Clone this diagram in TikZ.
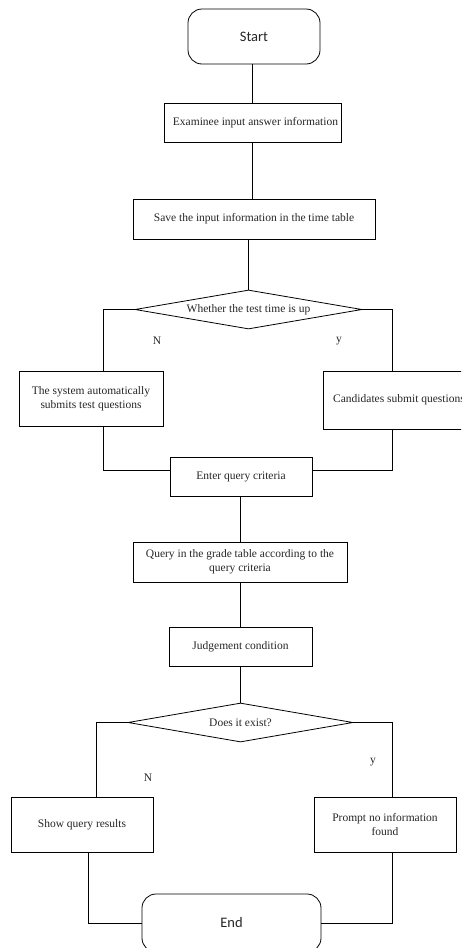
\documentclass[tikz,border=0pt]{standalone}
\usepackage{fontspec}
\setmainfont{Liberation Serif}
\newfontfamily\calib{Carlito}
\usetikzlibrary{shapes.geometric}
\begin{document}
\begin{tikzpicture}[x=1pt,y=-1pt,
  box/.style={draw, line width=0.8pt, font=\fontsize{11.5}{14}\selectfont, align=center, inner sep=0pt, text=black!85},
  term/.style={draw, line width=0.8pt, rounded corners=14pt, font=\calib\fontsize{14.5}{17}\selectfont, inner sep=0pt, text=black!85},
  dec/.style={draw, diamond, aspect=5.8, line width=0.8pt, font=\fontsize{11.5}{14}\selectfont, inner sep=0pt, text=black!85},
  lbl/.style={font=\fontsize{11.5}{14}\selectfont, inner sep=0pt, text=black!85},
  conn/.style={line width=0.8pt}]
\useasboundingbox (0,0) rectangle (461,948);
\clip (0,0) rectangle (461,948);
\node[term, minimum width=132pt, minimum height=55pt] (start) at (254,36.5) {Start};
\node[box, minimum width=177pt, minimum height=39pt] (exam) at (252.5,122.5) {\hspace*{6pt}Examinee input answer information};
\node[box, minimum width=242pt, minimum height=40pt] (save) at (254,219) {Save the input information in the time table};
\node[dec, minimum width=227pt, minimum height=39pt] (d1) at (248.5,309.5) {Whether the test time is up};
\node[box, minimum width=144pt, minimum height=55pt] (sys) at (91,398.5) {The system automatically\\submits test questions};
\node[box, minimum width=152pt, minimum height=58pt] (cand) at (399,400) {Candidates submit questions};
\node[box, minimum width=142pt, minimum height=39pt] (enter) at (241,476.5) {Enter query criteria};
\node[box, minimum width=214pt, minimum height=40pt] (query) at (240,562) {Query in the grade table according to the\\query criteria};
\node[box, minimum width=143pt, minimum height=39pt] (judge) at (240.5,646.5) {Judgement condition};
\node[dec, minimum width=225pt, minimum height=39pt] (d2) at (240.5,722.5) {Does it exist?};
\node[box, minimum width=142pt, minimum height=55pt] (show) at (82,824.5) {Show query results};
\node[box, minimum width=142pt, minimum height=55pt] (prompt) at (385,824.5) {Prompt no information\\found};
\node[term, minimum width=179pt, minimum height=58pt] (end) at (231.5,923) {End};
\node[lbl] (n1) at (157,341) {N};
\node[lbl] (y1) at (339,341) {y};
\node[lbl] (n2) at (148,778) {N};
\node[lbl] (y2) at (373,762) {y};
\draw[conn] (exam.north) -- (exam.north |- start.south);
\draw[conn] (exam.south) -- (exam.south |- save.north);
\draw[conn] (d1.north) -- (d1.north |- save.south);
\draw[conn] (d1.west) -| ([xshift=12pt]sys.north);
\draw[conn] (d1.east) -| ([xshift=-7pt]cand.north);
\draw[conn] ([xshift=12pt]sys.south) |- ([yshift=6.5pt]enter.west);
\draw[conn] ([xshift=-7pt]cand.south) |- ([yshift=6.5pt]enter.east);
\draw[conn] (query.north) -- (query.north |- enter.south);
\draw[conn] (judge.north) -- (judge.north |- query.south);
\draw[conn] (d2.north) -- (d2.north |- judge.south);
\draw[conn] (d2.west) -| ([xshift=14pt]show.north);
\draw[conn] (d2.east) -| ([xshift=7pt]prompt.north);
\draw[conn] ([xshift=6pt]show.south) |- (end.west);
\draw[conn] ([xshift=7pt]prompt.south) |- (end.east);
\end{tikzpicture}
\end{document}
